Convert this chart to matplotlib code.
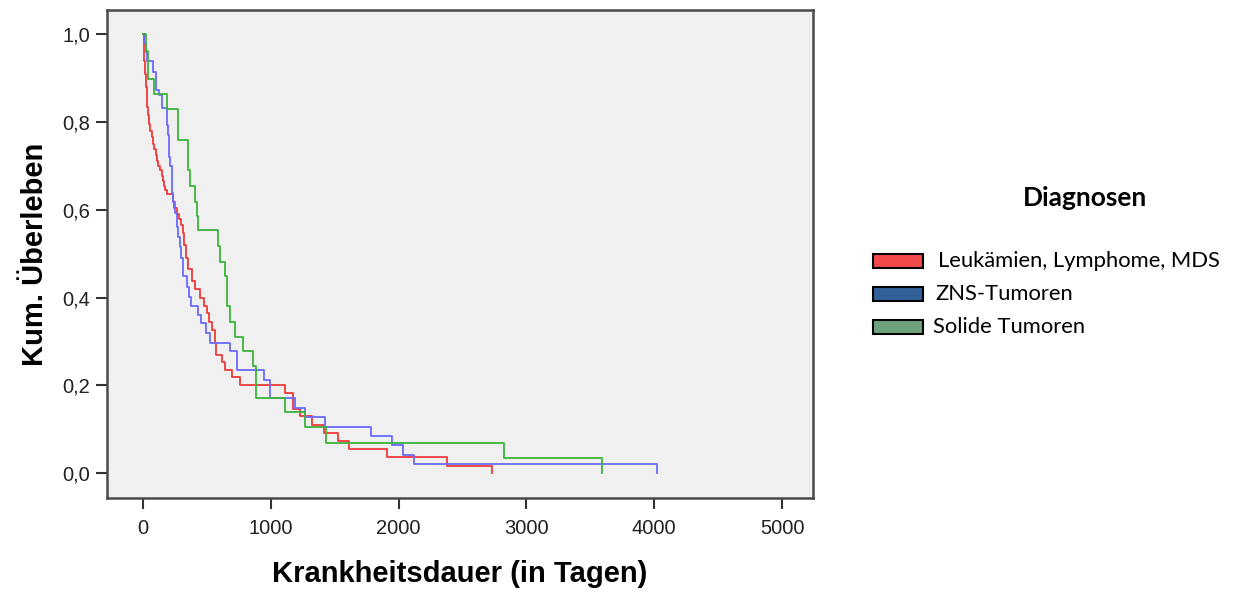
import matplotlib
matplotlib.use("Agg")
import matplotlib.pyplot as plt
from matplotlib.patches import Rectangle
from matplotlib.ticker import FuncFormatter

# Kaplan-Meier-Schritte: Zeitpunkt (Tage) und kum. Überleben nach dem Ereignis
leuk_t = [0, 5, 10, 15, 20, 28, 35, 42, 50, 58, 68, 78, 88, 98, 110, 120, 132,
          145, 155, 165, 175, 190, 232, 245, 265, 284, 300, 310, 322, 336, 350,
          381, 410, 446, 475, 503, 520, 537, 563, 575, 616, 642, 700, 759, 1111,
          1171, 1228, 1320, 1416, 1528, 1615, 1907, 2376, 2729]
leuk_s = [1.0, 0.97, 0.94, 0.91, 0.88, 0.855, 0.835, 0.815, 0.795, 0.78, 0.765,
          0.75, 0.738, 0.725, 0.712, 0.70, 0.69, 0.677, 0.665, 0.655, 0.645,
          0.635, 0.62, 0.605, 0.59, 0.58, 0.565, 0.548, 0.52, 0.49, 0.465, 0.437,
          0.42, 0.399, 0.38, 0.365, 0.345, 0.326, 0.296, 0.269, 0.254, 0.235,
          0.218, 0.2, 0.182, 0.145, 0.129, 0.11, 0.091, 0.074, 0.054, 0.036,
          0.016, 0.0]

zns_t = [0, 10, 23, 30, 81, 99, 125, 146, 185, 195, 200, 206, 212, 224, 230,
         238, 250, 264, 276, 290, 300, 316, 342, 360, 373, 433, 454, 493, 524,
         681, 733, 947, 994, 1189, 1268, 1424, 1781, 1946, 2037, 2123, 4025]
zns_s = [1.0, 0.98, 0.96, 0.938, 0.915, 0.873, 0.862, 0.831, 0.793, 0.77, 0.75,
         0.72, 0.70, 0.66, 0.638, 0.618, 0.592, 0.561, 0.538, 0.515, 0.49, 0.448,
         0.425, 0.402, 0.381, 0.361, 0.342, 0.319, 0.297, 0.277, 0.234, 0.212,
         0.172, 0.148, 0.127, 0.104, 0.084, 0.064, 0.040, 0.020, 0.0]

solid_t = [0, 23, 42, 89, 185, 276, 355, 368, 407, 425, 433, 589, 603, 642, 655,
           681, 720, 780, 863, 884, 1111, 1268, 1432, 2825, 3589]
solid_s = [1.0, 0.962, 0.897, 0.863, 0.83, 0.76, 0.69, 0.655, 0.618, 0.585,
           0.553, 0.517, 0.482, 0.448, 0.38, 0.345, 0.311, 0.277, 0.243, 0.172,
           0.138, 0.104, 0.069, 0.034, 0.0]

labels = ["Leukämien, Lymphome, MDS", "ZNS-Tumoren", "Solide Tumoren"]
line_colors = ["#f03a3a", "#6a6aff", "#3cb43c"]
patch_colors = ["#f24a4a", "#31609a", "#6ea27e"]

x_ticks = [0, 1000, 2000, 3000, 4000, 5000]
y_ticks = [0.0, 0.2, 0.4, 0.6, 0.8, 1.0]

fig = plt.figure(figsize=(12.35, 5.95), dpi=100)
ax = fig.add_axes([0.0866, 0.163, 0.5717, 0.820])
ax.set_facecolor("#f0f0f0")

for t, s, c in zip([leuk_t, zns_t, solid_t], [leuk_s, zns_s, solid_s], line_colors):
    ax.step(t, s, where="post", color=c, lw=1.3)

ax.set_xlim(-282, 5242)
ax.set_ylim(-0.057, 1.055)
ax.set_xticks(x_ticks)
ax.set_yticks(y_ticks)
ax.yaxis.set_major_formatter(FuncFormatter(lambda v, p: f"{v:.1f}".replace(".", ",")))

tick_font = ["Liberation Sans Narrow", "Liberation Sans"]
for lab in ax.get_xticklabels() + ax.get_yticklabels():
    lab.set_family(tick_font)
    lab.set_fontsize(14.5)
    lab.set_color("#222222")
ax.tick_params(direction="out", length=8, width=1.5, color="#333333", pad=4)
ax.tick_params(axis="x", pad=7)

for sp in ax.spines.values():
    sp.set_color("#4a4a4a")
    sp.set_linewidth(1.8)

ax.set_xlabel("Krankheitsdauer (in Tagen)", family="Liberation Sans", fontsize=21,
              fontweight="bold", labelpad=16)
ax.set_ylabel("Kum. Überleben", family="Liberation Sans", fontsize=21,
              fontweight="bold", labelpad=10)

# Legende
fig.text(1085 / 1235, 1 - 198 / 595, "Diagnosen", family="Lato", fontsize=19,
         fontweight="bold", ha="center", va="center")
leg_y = [261, 294, 327]
text_x = [938, 935, 933]
for y, tx, lab, pc in zip(leg_y, text_x, labels, patch_colors):
    fig.patches.append(Rectangle((873 / 1235, 1 - (y + 7) / 595), 50 / 1235, 14 / 595,
                                 transform=fig.transFigure, facecolor=pc,
                                 edgecolor="black", lw=1.5))
    fig.text(tx / 1235, 1 - y / 595, lab, family="Lato", fontsize=15.8,
             ha="left", va="center")

fig.savefig("out.png", dpi=100)
